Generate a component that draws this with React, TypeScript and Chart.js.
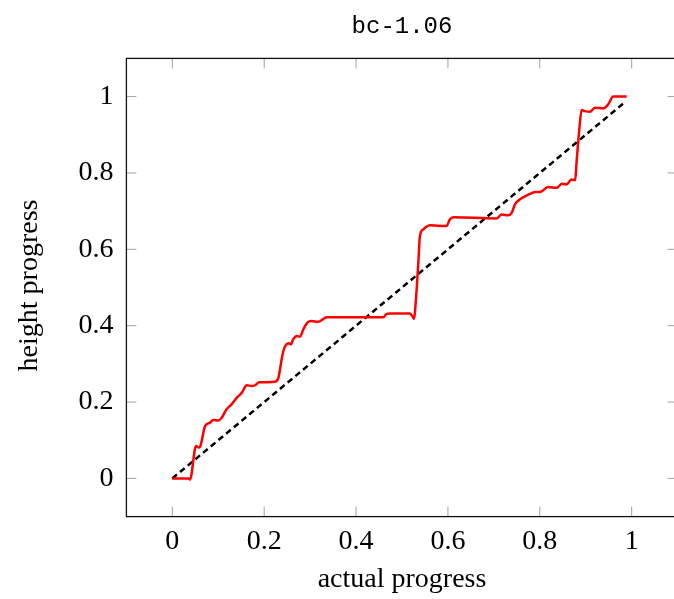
import { useEffect, useRef } from "react";
import { Chart, registerables } from "chart.js";

Chart.register(...registerables);

const titleText = "bc-1.06";
const xAxisTitle = "actual progress";
const yAxisTitle = "height progress";

const xTickValues = [0, 0.2, 0.4, 0.6, 0.8, 1];
const xTickLabels = ["0", "0.2", "0.4", "0.6", "0.8", "1"];
const yTickValues = [0, 0.2, 0.4, 0.6, 0.8, 1];
const yTickLabels = ["0", "0.2", "0.4", "0.6", "0.8", "1"];

const redX = [
  0, 0.035, 0.0385, 0.0516, 0.0566, 0.0603, 0.0712, 0.082, 0.089, 0.1, 0.1075,
  0.118, 0.129, 0.14, 0.151, 0.162, 0.173, 0.18, 0.189, 0.205, 0.225, 0.231,
  0.238, 0.242, 0.246, 0.253, 0.258, 0.263, 0.271, 0.278, 0.285, 0.294, 0.303,
  0.318, 0.329, 0.336, 0.459, 0.467, 0.474, 0.517, 0.523, 0.526, 0.531, 0.536,
  0.539, 0.546, 0.561, 0.597, 0.604, 0.612, 0.706, 0.717, 0.731, 0.739, 0.746,
  0.757, 0.77, 0.78, 0.79, 0.8, 0.818, 0.837, 0.848, 0.858, 0.869, 0.877, 0.88,
  0.886, 0.891, 0.898, 0.909, 0.92, 0.938, 0.949, 0.96, 0.975, 0.989,
];
const redY = [
  0, 0, -0.003, 0.085, 0.081, 0.083, 0.137, 0.146, 0.153, 0.152, 0.159, 0.181,
  0.194, 0.211, 0.224, 0.244, 0.242, 0.244, 0.252, 0.252, 0.254, 0.264, 0.312,
  0.335, 0.347, 0.354, 0.351, 0.364, 0.373, 0.371, 0.39, 0.408, 0.412, 0.41,
  0.418, 0.422, 0.422, 0.431, 0.432, 0.432, 0.424, 0.418, 0.48, 0.575, 0.635,
  0.652, 0.663, 0.661, 0.678, 0.684, 0.681, 0.691, 0.689, 0.696, 0.718, 0.731,
  0.74, 0.746, 0.75, 0.75, 0.763, 0.761, 0.772, 0.77, 0.783, 0.781, 0.827,
  0.914, 0.965, 0.962, 0.96, 0.971, 0.969, 0.98, 1.0, 1.0, 1.0,
];

const refX = [0, 0.985];
const refY = [0, 0.985];

const W = 700;
const H = 599;
const PLOT_LEFT = 126.4;
const PLOT_RIGHT = 677.6;
const PLOT_TOP = 58.4;
const PLOT_BOTTOM = 516.6;
const TICK_LEN = 10;

const framePlugin = {
  id: "frame",
  afterDatasetsDraw(chart: any) {
    const { ctx, chartArea } = chart;
    const { left, right, top, bottom } = chartArea;
    const xs = chart.scales.x;
    const ys = chart.scales.y;
    ctx.save();
    ctx.strokeStyle = "#a0a0a0";
    ctx.lineWidth = 1;
    const line = (x1: number, y1: number, x2: number, y2: number) => {
      ctx.beginPath();
      ctx.moveTo(x1, y1);
      ctx.lineTo(x2, y2);
      ctx.stroke();
    };
    xTickValues.forEach((v) => {
      const px = xs.getPixelForValue(v);
      line(px, bottom, px, bottom - TICK_LEN);
      line(px, top, px, top + TICK_LEN);
    });
    yTickValues.forEach((v) => {
      const py = ys.getPixelForValue(v);
      line(left, py, left + TICK_LEN, py);
      line(right, py, right - TICK_LEN, py);
    });
    ctx.strokeStyle = "#111";
    ctx.lineWidth = 1.3;
    ctx.strokeRect(left, top, right - left, bottom - top);

    ctx.fillStyle = "#000";
    ctx.textAlign = "center";
    ctx.textBaseline = "alphabetic";
    ctx.font = '24px "Liberation Mono"';
    ctx.fillText(titleText, (left + right) / 2, 33);
    ctx.font = '28px "Liberation Serif"';
    ctx.fillText(xAxisTitle, (left + right) / 2, 587);
    ctx.translate(37, (top + bottom) / 2 - 2);
    ctx.rotate(-Math.PI / 2);
    ctx.fillText(yAxisTitle, 0, 0);
    ctx.restore();
  },
};

export default function App() {
  const ref = useRef<HTMLCanvasElement | null>(null);
  useEffect(() => {
    if (!ref.current) return;
    const chart = new Chart(ref.current, {
      type: "scatter",
      data: {
        datasets: [
          {
            data: redX.map((x, i) => ({ x, y: redY[i] })),
            showLine: true,
            borderColor: "#ff0000",
            backgroundColor: "#ff0000",
            borderWidth: 2.5,
            pointRadius: 0,
            cubicInterpolationMode: "monotone",
            fill: false,
          },
          {
            data: refX.map((x, i) => ({ x, y: refY[i] })),
            showLine: true,
            borderColor: "#000",
            backgroundColor: "#000",
            borderWidth: 2.5,
            borderDash: [6, 4],
            pointRadius: 0,
            fill: false,
          },
        ],
      },
      options: {
        responsive: false,
        animation: false,
        layout: { padding: { top: PLOT_TOP, right: W - PLOT_RIGHT, bottom: 0, left: 0 } },
        plugins: {
          legend: { display: false },
          title: { display: false },
          tooltip: { enabled: false },
        },
        scales: {
          x: {
            type: "linear",
            min: -0.1,
            max: 1.1,
            grid: { display: false, drawTicks: false, tickLength: 0 },
            border: { display: false },
            afterBuildTicks: (s: any) => {
              s.ticks = xTickValues.map((v) => ({ value: v }));
            },
            afterFit: (s: any) => {
              s.height = H - PLOT_BOTTOM;
            },
            ticks: {
              callback: (_v: any, i: number) => xTickLabels[i],
              font: { family: '"Liberation Serif"', size: 28 },
              color: "#000",
              padding: 8,
              maxRotation: 0,
              autoSkip: false,
            },
          },
          y: {
            type: "linear",
            min: -0.1,
            max: 1.1,
            grid: { display: false, drawTicks: false, tickLength: 0 },
            border: { display: false },
            afterBuildTicks: (s: any) => {
              s.ticks = yTickValues.map((v) => ({ value: v }));
            },
            afterFit: (s: any) => {
              s.width = PLOT_LEFT;
            },
            ticks: {
              callback: (_v: any, i: number) => yTickLabels[i],
              font: { family: '"Liberation Serif"', size: 28 },
              color: "#000",
              padding: 13,
              autoSkip: false,
            },
          },
        },
      },
      plugins: [framePlugin],
    } as any);
    return () => chart.destroy();
  }, []);
  return (
    <div
      style={{
        position: "fixed",
        left: 0,
        top: 0,
        width: 674,
        height: 599,
        overflow: "hidden",
        background: "#fff",
      }}
    >
      <canvas ref={ref} width={W} height={H} style={{ display: "block", width: W, height: H }} />
    </div>
  );
}
